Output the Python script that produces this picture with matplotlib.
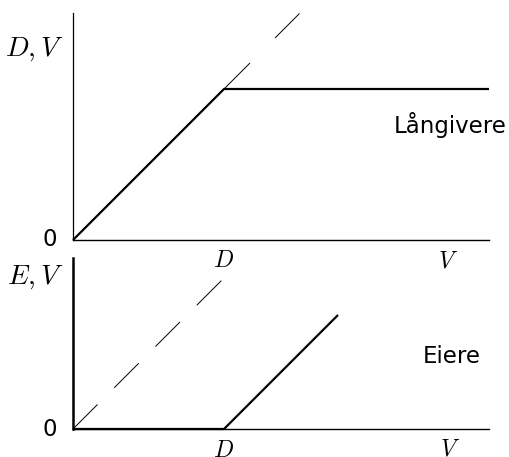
import matplotlib
matplotlib.use("Agg")
import matplotlib.pyplot as plt
import numpy as np

plt.rcParams['mathtext.fontset'] = 'cm'
plt.rcParams['lines.scale_dashes'] = False

# Data (in units of D)
D = 1.0
V_max = 2.755
# Top panel: lender payoff D(V) = min(V, D)
lend_V = [0.0, D, V_max]
lend_P = [0.0, D, D]
top_diag_V = [D, 1.5]
top_diag_P = [D, 1.5]
# Bottom panel: owner payoff E(V) = max(V - D, 0)
own_V = [0.0, D, 1.755]
own_P = [0.0, 0.0, 0.755]
bot_diag_V = [0.0, D]
bot_diag_P = [0.0, D]

W, H = 510, 457
fig = plt.figure(figsize=(W / 100, H / 100), dpi=100)

x0, x1 = 73, 489
ax1 = fig.add_axes([x0 / W, (H - 240) / H, (x1 - x0) / W, (240 - 13) / H])
ax2 = fig.add_axes([x0 / W, (H - 429) / H, (x1 - x0) / W, (429 - 258) / H])

unit = 151.0
ax1.set_xlim(0, (x1 - x0) / unit)
ax1.set_ylim(0, (240 - 13) / unit)
ax2.set_xlim(0, (x1 - x0) / unit)
ax2.set_ylim(0, (429 - 258) / unit)

for ax in (ax1, ax2):
    ax.set_xticks([])
    ax.set_yticks([])
    ax.spines['top'].set_visible(False)
    ax.spines['right'].set_visible(False)
    ax.patch.set_visible(False)

ax1.spines['left'].set_linewidth(0.9)
ax1.spines['bottom'].set_linewidth(1.0)
ax2.spines['left'].set_linewidth(1.8)
ax2.spines['bottom'].set_linewidth(1.0)

ax1.plot(lend_V, lend_P, color='black', lw=1.6, clip_on=False, solid_capstyle='butt')
ax1.plot(top_diag_V, top_diag_P, color='black', lw=0.7, dashes=(26.5, 25.5), clip_on=False)
ax2.plot(own_V, own_P, color='black', lw=1.6, clip_on=False, solid_capstyle='butt')
ax2.plot(bot_diag_V, bot_diag_P, color='black', lw=0.7, dashes=(25, 17), clip_on=False)

def px(xp):
    return (xp - x0) / unit

math_fs = 20
tick_fs = 17
txt_fs = 16.5

# top panel labels
ax1.text(px(64), (240 - 56) / unit, r'$D,V$', fontsize=math_fs, ha='right', va='baseline')
ax1.text(px(50), 0.0, '0', fontsize=txt_fs, ha='center', va='center')
ax1.text(D, -(248 - 240) / unit, r'$D$', fontsize=tick_fs, ha='center', va='top')
ax1.text(px(448), -(248 - 240) / unit, r'$V$', fontsize=tick_fs, ha='center', va='top')
ax1.text(px(450), (240 - 133) / unit, 'Långivere', fontsize=txt_fs, ha='center', va='baseline')

# bottom panel labels
ax2.text(px(63), (429 - 284) / unit, r'$E,V$', fontsize=math_fs, ha='right', va='baseline')
ax2.text(px(50), 0.0, '0', fontsize=txt_fs, ha='center', va='center')
ax2.text(D, -(438 - 429) / unit, r'$D$', fontsize=tick_fs, ha='center', va='top')
ax2.text(px(450), -(437 - 429) / unit, r'$V$', fontsize=tick_fs, ha='center', va='top')
ax2.text(px(452), (429 - 363) / unit, 'Eiere', fontsize=txt_fs, ha='center', va='baseline')

fig.savefig('out.png', dpi=100)
